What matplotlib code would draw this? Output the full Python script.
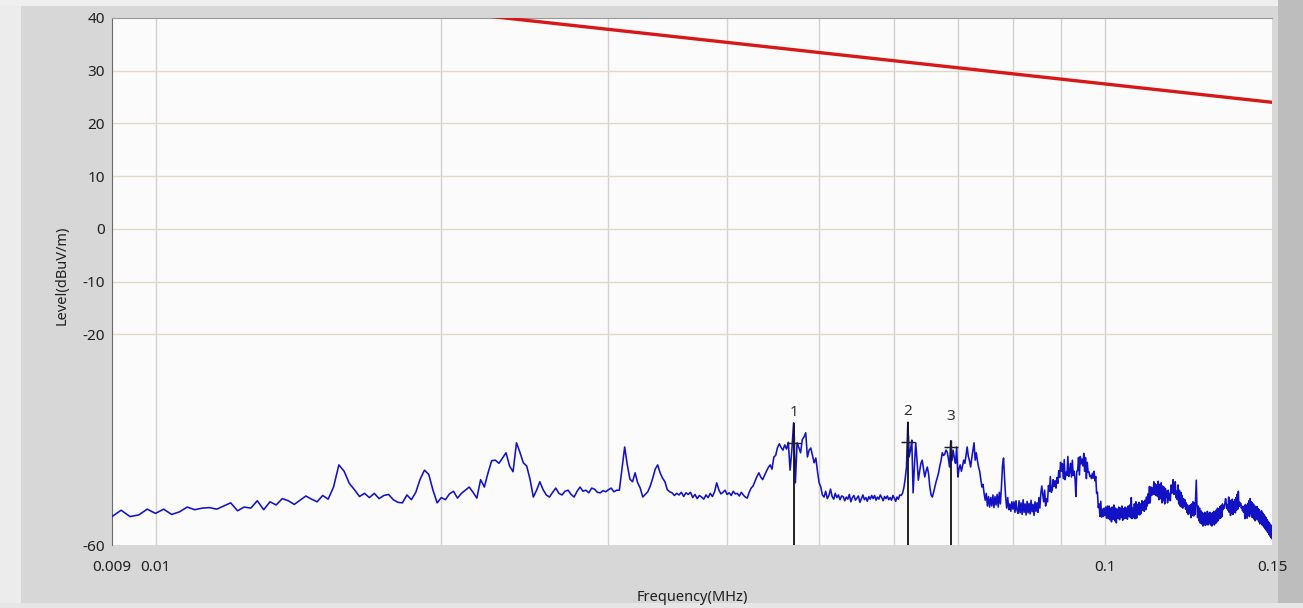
import numpy as np
import matplotlib.pyplot as plt
from matplotlib.patches import Rectangle

plt.rcParams['font.family'] = ['Noto Sans', 'DejaVu Sans']
plt.rcParams['axes.unicode_minus'] = False

# measured level (dBuV/m), sweep in 200 Hz steps starting at 9 kHz
level_dbuv = [
    -54.6, -53.4, -54.6, -54.3, -53.2, -54.0, -53.2, -54.2, -53.7, -52.8, -53.3, -53.0, -52.9, -53.2, -52.6, -52.0, -53.5, -52.8, -53.0, -51.6,
    -53.3, -51.8, -52.4, -51.2, -51.6, -52.3, -51.5, -50.7, -51.3, -51.8, -50.6, -51.3, -49.0, -44.8, -46.0, -48.3, -49.5, -50.8, -50.2, -51.0,
    -50.2, -51.2, -50.6, -50.4, -51.4, -51.9, -52.0, -50.5, -51.4, -50.0, -47.5, -45.8, -46.6, -49.6, -52.0, -51.0, -51.4, -50.3, -49.8, -51.1,
    -50.2, -49.6, -49.0, -50.0, -51.1, -47.6, -49.0, -46.3, -44.0, -43.9, -44.5, -43.5, -42.5, -45.0, -46.1, -40.6, -42.4, -44.4, -45.0, -47.5,
    -50.9, -49.6, -48.0, -49.5, -50.5, -50.9, -50.0, -49.2, -50.2, -50.5, -49.8, -49.6, -50.4, -50.9, -49.8, -49.0, -49.8, -49.6, -50.1, -49.2,
    -49.4, -50.0, -50.1, -49.7, -49.9, -49.5, -49.2, -49.9, -49.6, -49.6, -45.4, -41.4, -44.8, -47.5, -48.0, -46.3, -48.2, -49.2, -50.9, -50.4,
    -49.9, -48.8, -47.3, -45.6, -44.8, -46.3, -47.3, -48.0, -49.5, -49.9, -50.1, -50.6, -50.2, -50.5, -50.0, -50.8, -50.1, -50.4, -50.0, -51.0,
    -50.4, -51.2, -50.6, -50.9, -51.3, -50.5, -51.0, -50.2, -50.8, -49.9, -48.2, -49.5, -50.3, -50.0, -49.6, -50.4, -50.1, -50.6, -49.8, -50.3,
    -50.2, -50.7, -50.0, -50.5, -50.9, -51.1, -50.0, -49.2, -48.8, -47.9, -47.0, -46.3, -47.1, -47.6, -46.8, -46.0, -45.3, -44.8, -45.6, -43.3,
    -43.0, -41.5, -40.8, -41.5, -42.0, -41.0, -41.8, -40.5, -45.8, -42.0, -36.8, -48.2, -40.6, -41.5, -42.5, -40.0, -39.5, -38.7, -43.3, -42.0,
    -41.6, -43.0, -44.4, -43.5, -46.0, -48.2, -49.0, -50.5, -50.9, -49.8, -51.2, -50.6, -49.4, -50.8, -51.3, -50.2, -51.0, -50.5, -51.4, -50.7,
    -50.8, -51.6, -50.9, -51.3, -50.4, -51.8, -51.0, -50.6, -51.5, -51.1, -50.7, -51.9, -51.2, -50.5, -51.4, -51.0, -51.7, -50.8, -51.3, -50.6,
    -51.2, -50.6, -51.5, -50.9, -51.3, -50.5, -51.0, -51.6, -50.8, -51.2, -50.7, -51.4, -51.0, -51.5, -50.6, -51.1, -51.7, -50.9, -51.3, -50.5,
    -50.6, -50.2, -49.2, -47.5, -45.2, -36.7, -43.3, -42.0, -40.1, -50.1, -45.0, -40.6, -44.0, -47.7, -46.0, -44.5, -43.9, -45.5, -47.1, -46.0,
    -45.2, -46.5, -49.0, -50.5, -50.9, -50.0, -49.0, -48.0, -47.2, -46.3, -45.0, -44.0, -42.5, -43.0, -42.8, -42.0, -42.3, -43.5, -45.2, -40.2,
    -44.0, -42.0, -43.5, -44.5, -41.4, -47.1, -45.5, -44.8, -46.0, -45.0, -43.9, -44.5, -43.0, -41.4, -43.2, -44.0, -45.2, -43.5, -42.0, -40.6,
    -43.9, -42.5, -44.0, -45.2, -46.0, -47.5, -49.0, -48.5, -50.2, -51.5, -50.2, -52.6, -50.8, -52.8, -51.0, -52.6, -50.5, -52.9, -50.8, -52.4,
    -50.4, -52.8, -50.0, -52.2, -49.0, -45.0, -43.5, -47.5, -50.9, -53.0, -51.0, -53.3, -52.2, -53.6, -51.8, -53.2, -51.8, -53.8, -51.6, -53.4,
    -54.0, -51.6, -53.9, -52.0, -54.2, -51.4, -53.8, -52.2, -54.3, -51.7, -53.9, -52.1, -54.1, -51.5, -53.7, -52.3, -54.4, -51.8, -53.6, -52.0,
    -53.8, -51.0, -53.0, -50.2, -48.8, -50.4, -51.8, -49.6, -52.6, -51.2, -51.8, -48.7, -49.8, -47.0, -50.0, -49.6, -47.6, -48.9, -47.8, -49.2,
    -47.2, -48.3, -45.9, -47.2, -44.3, -46.0, -44.6, -47.4, -43.8, -47.6, -46.2, -46.8, -43.2, -47.0, -46.1, -44.5, -47.1, -43.9, -46.8, -46.0,
    -47.4, -50.8, -46.0, -45.9, -43.4, -46.7, -43.2, -44.6, -43.7, -45.0, -42.6, -46.0, -43.4, -47.4, -44.3, -46.2, -46.1, -47.0, -46.8, -47.4,
    -46.4, -47.3, -46.0, -47.8, -47.0, -50.2, -50.0, -52.9, -52.2, -54.6, -51.7, -54.7, -53.2, -54.6, -53.0, -54.4, -52.8, -54.9, -52.6, -55.0,
    -52.6, -55.2, -53.0, -55.6, -52.8, -55.1, -52.4, -55.4, -53.0, -55.8, -53.2, -54.9, -52.8, -55.2, -53.0, -54.8, -52.6, -55.3, -53.1, -55.0,
    -52.8, -54.9, -53.0, -55.1, -52.6, -54.6, -52.4, -54.8, -51.0, -55.0, -53.0, -54.8, -52.2, -55.0, -51.8, -54.9, -52.3, -54.2, -51.9, -54.3,
    -52.2, -54.0, -51.6, -53.4, -51.8, -53.6, -51.5, -53.3, -50.9, -52.6, -50.3, -52.1, -48.9, -52.0, -49.0, -50.6, -49.2, -50.4, -48.0, -50.4,
    -48.4, -50.6, -48.6, -50.8, -47.9, -51.4, -48.5, -51.2, -48.2, -52.0, -48.8, -51.6, -49.0, -52.2, -49.3, -51.0, -49.8, -52.0, -49.6, -51.4,
    -50.2, -51.6, -48.6, -50.2, -49.5, -47.6, -50.4, -49.0, -48.0, -51.0, -49.8, -51.4, -48.6, -52.2, -49.6, -52.6, -50.0, -52.8, -50.6, -53.0,
    -51.2, -52.6, -51.4, -53.2, -52.0, -53.8, -52.4, -54.2, -52.8, -54.0, -52.4, -54.8, -52.2, -54.4, -51.8, -54.5, -52.0, -54.2, -51.0, -47.7,
    -52.6, -54.8, -52.6, -55.4, -53.0, -55.8, -53.5, -56.0, -53.8, -56.4, -54.0, -56.1, -53.8, -56.3, -54.2, -56.0, -53.6, -56.2, -54.0, -55.8,
    -53.8, -56.2, -54.0, -56.4, -53.9, -55.9, -53.6, -56.2, -54.2, -55.9, -53.4, -55.6, -53.0, -55.4, -53.1, -55.0, -52.7, -54.9, -52.5, -54.6,
    -52.2, -53.3, -52.6, -53.0, -51.9, -51.2, -52.0, -53.1, -52.4, -53.4, -50.9, -53.8, -51.5, -54.4, -51.9, -54.0, -51.3, -54.2, -51.8, -53.8,
    -51.4, -53.9, -51.0, -53.4, -50.4, -53.2, -49.8, -52.7, -51.9, -52.4, -52.1, -53.0, -52.6, -53.5, -53.0, -53.8, -52.6, -55.0, -52.3, -54.8,
    -52.5, -54.9, -52.1, -54.4, -51.6, -54.6, -51.2, -54.0, -51.8, -54.7, -52.0, -54.8, -52.3, -55.1, -52.6, -55.4, -52.9, -55.0, -52.7, -55.2,
    -53.1, -55.6, -53.3, -56.0, -53.7, -55.8, -53.5, -56.2, -53.9, -56.4, -54.2, -56.7, -54.5, -57.0, -54.8, -57.3, -55.2, -57.6, -55.5, -58.0,
    -55.8, -58.3, -56.1, -58.6, -56.4, -58.8,
]
f_start = 0.009
f_step = 0.0002
freq_mhz = f_start + f_step * np.arange(len(level_dbuv))

# limit line, falling linearly with log frequency
limit_freq = [0.009, 0.15]
limit_level = [48.2, 24.0]

# peak markers
marker_ids = ['1', '2', '3']
marker_freq = [0.047, 0.062, 0.0688]
marker_level = [-40.6, -40.5, -41.4]

ytick_vals = [-60, -20, -10, 0, 10, 20, 30, 40]
ygrid_vals = [-20, -10, 0, 10, 20, 30]
xtick_vals = [0.009, 0.01, 0.1, 0.15]
xtick_labels = ['0.009', '0.01', '0.1', '0.15']
xgrid_vals = [0.01, 0.02, 0.03, 0.04, 0.05, 0.06, 0.07, 0.08, 0.09, 0.1]

fig = plt.figure(figsize=(13.03, 6.08), dpi=100, facecolor='#d7d7d7')

# window frame
fig.patches.append(Rectangle((0, 0), 0.016, 1, transform=fig.transFigure,
                             facecolor='#ececec', edgecolor='none', zorder=-5))
fig.patches.append(Rectangle((0, 0.99), 1, 0.01, transform=fig.transFigure,
                             facecolor='#efefef', edgecolor='none', zorder=-5))
fig.patches.append(Rectangle((0.981, 0), 0.019, 1, transform=fig.transFigure,
                             facecolor='#bdbdbd', edgecolor='none', zorder=-5))
fig.patches.append(Rectangle((0, 0), 1, 0.008, transform=fig.transFigure,
                             facecolor='#e6e6e6', edgecolor='none', zorder=-5))

ax = fig.add_axes([0.0860, 0.1036, 0.8903, 0.8668])
ax.set_facecolor('#fbfbfb')
ax.set_xscale('log')
ax.set_xlim(0.009, 0.15)
ax.set_ylim(-60, 40)

for g in xgrid_vals:
    ax.axvline(g, color='#d2d2d2', lw=1.0, zorder=1)
for g in ygrid_vals:
    ax.axhline(g, color='#e2dac6', lw=1.0, zorder=1)

ax.plot(limit_freq, limit_level, color='#d81818', lw=2.4, zorder=4,
        solid_capstyle='butt')
ax.plot(freq_mhz, level_dbuv, color='#1212c4', lw=1.15, zorder=3)

lv = np.array(level_dbuv)
for mid, mf, ml in zip(marker_ids, marker_freq, marker_level):
    idx = int(round((mf - f_start) / f_step))
    ax.vlines(mf, -60, lv[idx], color='#111111', lw=1.3, zorder=5)
    ax.plot(mf, ml, marker='+', ms=10, mew=1.0, color='#222222', zorder=6)
    ax.plot([mf * 0.985, mf * 1.015], [ml, ml], color='#222222', lw=0.9,
            ls=(0, (2, 1.5)), zorder=6)
    ax.text(mf, ml + 5.8, mid, ha='center', va='center', fontsize=11,
            color='#303030', zorder=6)

ax.set_xticks(xtick_vals)
ax.set_xticklabels(xtick_labels)
ax.xaxis.set_minor_locator(plt.NullLocator())
ax.set_yticks(ytick_vals)
ax.tick_params(axis='both', length=0, labelsize=11, colors='#202020')
ax.tick_params(axis='x', pad=11)
ax.tick_params(axis='y', pad=5)

for side in ['right', 'bottom']:
    ax.spines[side].set_visible(False)
ax.spines['left'].set_color('#6a6a6a')
ax.spines['top'].set_color('#9a9a9a')

fig.text(0.531, 0.018, 'Frequency(MHz)', ha='center', va='center',
         fontsize=10.5, color='#202020')
fig.text(0.0475, 0.548, 'Level(dBuV/m)', ha='center', va='center',
         rotation=90, fontsize=10.5, color='#202020')

fig.savefig('out.png', dpi=100, facecolor=fig.get_facecolor())
